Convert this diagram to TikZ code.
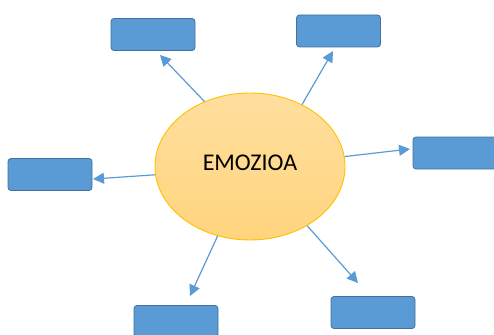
\documentclass[tikz,border=0pt]{standalone}
\usepackage{fontspec}
\setmainfont{Carlito}
\usetikzlibrary{arrows.meta,shapes.geometric}

\definecolor{boxblue}{HTML}{5B9BD5}
\definecolor{boxline}{HTML}{41719C}
\definecolor{emotop}{HTML}{FFDF9E}
\definecolor{emobot}{HTML}{FFD47E}
\definecolor{emoline}{HTML}{FFC000}

\begin{document}
\begin{tikzpicture}[x=1pt,y=-1pt,
    emobox/.style={draw=boxline,fill=boxblue,line width=0.8pt,rounded corners=3pt,
      minimum width=84pt,minimum height=32pt,inner sep=0pt},
    emoarrow/.style={draw=boxblue,line width=1.2pt,-{Triangle[width=11pt,length=11pt]}}]
		% picture frame
		\clip (0,0) rectangle (494,334);
		
		% central ellipse
		\node[ellipse,draw=emoline,line width=0.9pt,top color=emotop,bottom color=emobot,
		  minimum width=190pt,minimum height=147pt,inner sep=0pt,font=\fontsize{24}{26}\selectfont]
		  (emo) at (250,166.5) {\raisebox{8pt}{EMOZIOA}};
		
		% empty boxes around it
		\node[emobox] (tl) at (153,34.5) {};
		\node[emobox] (tr) at (338.5,31) {};
		\node[emobox] (lf) at (50,174.5) {};
		\node[emobox] (rt) at (455,153) {};
		\node[emobox] (bl) at (176,321.5) {};
		\node[emobox] (br) at (373,312.5) {};
		
		% arrow tips, a little short of the boxes
		\coordinate (tltip) at (160,55);
		\coordinate (trtip) at (333,51);
		\coordinate (lftip) at (93,179);
		\coordinate (rttip) at (410,149);
		\coordinate (bltip) at (190,296);
		\coordinate (brtip) at (358,283);
		
		% arrows out of the ellipse
		\draw[emoarrow] (emo.125) -- (tltip);
		\draw[emoarrow] (emo.50) -- (trtip);
		\draw[emoarrow] (emo.185) -- (lftip);
		\draw[emoarrow] (emo.6) -- (rttip);
		\draw[emoarrow] (emo.245) -- (bltip);
		\draw[emoarrow] (emo.314) -- (brtip);
		
\end{tikzpicture}
\end{document}
